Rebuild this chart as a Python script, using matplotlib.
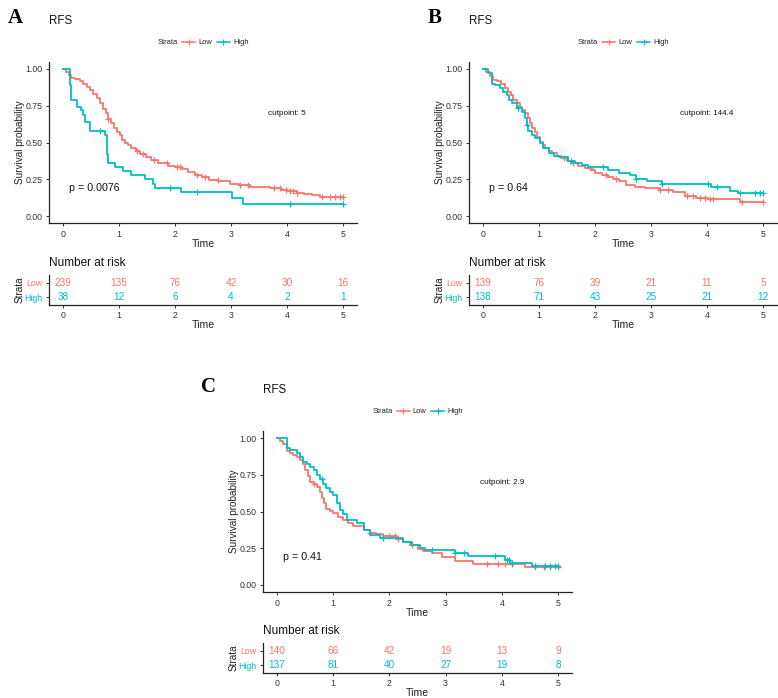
import numpy as np
import matplotlib
matplotlib.use("Agg")
import matplotlib.pyplot as plt
from matplotlib.lines import Line2D

plt.rcParams['font.family'] = ['Liberation Sans', 'DejaVu Sans']

RED = '#F8766D'
CYAN = '#00BFC4'
W, H = 778, 698

# ---- data (step times / survival after each step / censor times) ----
a_low_t = [0.05, 0.10, 0.14, 0.22, 0.30, 0.36, 0.42, 0.48, 0.54, 0.60, 0.66, 0.71, 0.76, 0.81,
           0.86, 0.91, 0.96, 1.01, 1.05, 1.10, 1.16, 1.22, 1.30, 1.38, 1.48, 1.58, 1.70, 1.88,
           2.00, 2.12, 2.24, 2.36, 2.48, 2.60, 2.77, 2.98, 3.15, 3.34, 3.50, 3.70, 3.90, 4.02,
           4.17, 4.30, 4.44, 4.59]
a_low_s = [0.98, 0.96, 0.94, 0.93, 0.92, 0.90, 0.88, 0.855, 0.83, 0.80, 0.77, 0.73, 0.70, 0.66,
           0.63, 0.60, 0.57, 0.55, 0.52, 0.50, 0.48, 0.46, 0.445, 0.425, 0.40, 0.38, 0.36, 0.34,
           0.33, 0.32, 0.30, 0.28, 0.265, 0.245, 0.235, 0.22, 0.21, 0.20, 0.195, 0.188, 0.18, 0.17,
           0.159, 0.15, 0.143, 0.131]
a_low_c = [0.81, 1.33, 1.42, 1.62, 1.85, 2.03, 2.09, 2.39, 2.53, 2.76, 3.16, 3.31, 3.76, 3.88,
           3.98, 4.05, 4.10, 4.17, 4.62, 4.77, 4.86, 4.95, 5.0]
a_high_t = [0.13, 0.15, 0.25, 0.33, 0.35, 0.39, 0.48, 0.75, 0.78, 0.80, 0.93, 1.08, 1.21, 1.46,
            1.61, 1.64, 2.11, 3.02, 3.21]
a_high_s = [0.89, 0.79, 0.74, 0.72, 0.69, 0.64, 0.58, 0.55, 0.42, 0.36, 0.33, 0.305, 0.28, 0.25,
            0.22, 0.19, 0.16, 0.12, 0.08]
a_high_c = [0.66, 1.91, 2.40, 4.05, 5.0]

b_low_t = [0.06, 0.12, 0.18, 0.25, 0.33, 0.40, 0.45, 0.50, 0.54, 0.60, 0.66, 0.70, 0.75, 0.80,
           0.84, 0.88, 0.93, 0.97, 1.02, 1.07, 1.11, 1.17, 1.23, 1.32, 1.40, 1.50, 1.58, 1.70,
           1.82, 1.92, 2.00, 2.12, 2.24, 2.33, 2.42, 2.56, 2.72, 2.90, 3.15, 3.40, 3.60, 3.80,
           4.02, 4.59]
b_low_s = [0.98, 0.95, 0.925, 0.915, 0.90, 0.87, 0.846, 0.82, 0.79, 0.77, 0.744, 0.72, 0.70,
           0.665, 0.63, 0.60, 0.574, 0.54, 0.506, 0.48, 0.46, 0.44, 0.426, 0.41, 0.392, 0.375,
           0.358, 0.34, 0.324, 0.31, 0.29, 0.28, 0.267, 0.255, 0.24, 0.21, 0.20, 0.19, 0.178,
           0.165, 0.136, 0.125, 0.114, 0.093]
b_low_c = [1.44, 1.60, 1.91, 2.20, 2.38, 3.16, 3.31, 3.64, 3.75, 3.88, 3.96, 4.06, 4.11, 4.63, 5.0]
b_high_t = [0.09, 0.155, 0.22, 0.30, 0.36, 0.42, 0.47, 0.51, 0.60, 0.69, 0.75, 0.78, 0.81, 0.87,
            0.93, 1.02, 1.08, 1.17, 1.26, 1.35, 1.52, 1.64, 1.76, 1.88, 2.24, 2.42, 2.63, 2.74,
            2.92, 3.19, 4.08, 4.41, 4.56]
b_high_s = [0.97, 0.90, 0.89, 0.87, 0.845, 0.82, 0.79, 0.767, 0.733, 0.71, 0.67, 0.62, 0.58,
            0.55, 0.53, 0.495, 0.46, 0.426, 0.41, 0.40, 0.376, 0.36, 0.347, 0.33, 0.31, 0.29,
            0.28, 0.25, 0.235, 0.22, 0.20, 0.17, 0.155]
b_high_c = [0.63, 0.78, 1.58, 2.15, 2.74, 3.19, 4.02, 4.17, 4.59, 4.86, 4.95, 5.0]

c_low_t = [0.05, 0.11, 0.17, 0.23, 0.29, 0.35, 0.41, 0.46, 0.50, 0.55, 0.59, 0.65, 0.71, 0.76,
           0.80, 0.84, 0.88, 0.94, 1.00, 1.09, 1.18, 1.27, 1.36, 1.54, 1.65, 1.77, 1.89, 2.13,
           2.25, 2.37, 2.50, 2.60, 2.75, 2.93, 3.17, 3.49, 4.42]
c_low_s = [0.98, 0.96, 0.91, 0.90, 0.884, 0.87, 0.85, 0.82, 0.78, 0.74, 0.70, 0.685, 0.67, 0.63,
           0.59, 0.555, 0.52, 0.505, 0.49, 0.465, 0.44, 0.42, 0.40, 0.374, 0.356, 0.347, 0.33,
           0.31, 0.29, 0.27, 0.245, 0.23, 0.215, 0.193, 0.16, 0.14, 0.125]
c_low_c = [0.65, 1.65, 1.99, 2.10, 2.16, 2.40, 3.73, 3.94, 4.06, 4.18, 4.60, 4.75, 4.85, 5.0]
c_high_t = [0.17, 0.23, 0.35, 0.41, 0.47, 0.53, 0.59, 0.65, 0.71, 0.76, 0.82, 0.88, 0.94, 1.00,
            1.06, 1.12, 1.18, 1.24, 1.42, 1.54, 1.65, 1.83, 2.25, 2.40, 2.55, 2.63, 3.17, 3.40,
            4.06, 4.14, 4.53]
c_high_s = [0.93, 0.92, 0.896, 0.87, 0.84, 0.82, 0.80, 0.78, 0.75, 0.72, 0.69, 0.66, 0.635, 0.61,
            0.56, 0.51, 0.48, 0.44, 0.42, 0.374, 0.34, 0.318, 0.295, 0.27, 0.25, 0.238, 0.215,
            0.197, 0.17, 0.152, 0.129]
c_high_c = [0.80, 1.89, 2.75, 3.17, 3.32, 3.88, 4.09, 4.12, 4.18, 4.60, 4.77, 4.86, 4.95, 5.0]

risk_times = [0, 1, 2, 3, 4, 5]
a_risk_low = [239, 135, 76, 42, 30, 16]
a_risk_high = [38, 12, 6, 4, 2, 1]
b_risk_low = [139, 76, 39, 21, 11, 5]
b_risk_high = [138, 71, 43, 25, 21, 12]
c_risk_low = [140, 66, 42, 19, 13, 9]
c_risk_high = [137, 81, 40, 27, 19, 8]

pvals = ['p = 0.0076', 'p = 0.64', 'p = 0.41']
cutpoints = ['cutpoint: 5', 'cutpoint: 144.4', 'cutpoint: 2.9']


def rect(l, r, t, b):
    return [l / W, 1 - b / H, (r - l) / W, (b - t) / H]


def style_axes(ax):
    for s in ['top', 'right']:
        ax.spines[s].set_visible(False)
    for s in ['left', 'bottom']:
        ax.spines[s].set_color('#222222')
        ax.spines[s].set_linewidth(0.9)
    ax.tick_params(length=2.5, width=0.7, color='#333333', labelsize=6.3,
                   labelcolor='#333333', pad=2)


def km_curve(ax, t, s, cens, color):
    tt = np.r_[0, t, 5]
    ss = np.r_[1, s, s[-1]]
    ax.step(tt, ss, where='post', color=color, lw=1.3)
    idx = np.searchsorted(t, cens, side='right')
    cy = np.r_[1, s][idx]
    ax.plot(cens, cy, ls='none', marker='+', ms=4, mew=0.9, color=color)


def draw_panel(label, km_box, tab_box, low, high, risk_low, risk_high, pval, cut):
    l, r, top, bot = km_box
    ax = fig.add_axes(rect(l, r, top, bot))
    km_curve(ax, *low, RED)
    km_curve(ax, *high, CYAN)
    ax.set_xlim(-0.25, 5.25)
    ax.set_ylim(-0.05, 1.05)
    ax.set_xticks(risk_times)
    ax.set_yticks([0, 0.25, 0.5, 0.75, 1.0])
    ax.set_yticklabels(['0.00', '0.25', '0.50', '0.75', '1.00'])
    style_axes(ax)
    ax.set_xlabel('Time', fontsize=7.6, color='#222222')
    ax.set_ylabel('Survival probability', fontsize=7.2, color='#222222')
    hgt = bot - top
    ax.xaxis.set_label_coords(0.5, -15.7 / hgt)
    ax.yaxis.set_label_coords(-24 / (r - l), 0.5)
    ax.text(0.1, 0.19, pval, fontsize=7.7, va='center', ha='left', color='#111111')
    ax.text(4.0, 0.70, cut, fontsize=5.9, va='center', ha='center', color='#111111')

    # panel letter, title, legend
    fig.text((l - 41 if label != 'C' else l - 62) / W, 1 - (top - 44) / H, label,
             fontsize=15, fontweight='bold', family='Liberation Serif', va='center')
    fig.text(l / W, 1 - (top - 41) / H, 'RFS', fontsize=8.3, va='center', color='#111111')
    cx = (l + r) / 2
    ly = 1 - (top - 19.5) / H
    fig.text((cx - 45) / W, ly, 'Strata', fontsize=5.4, va='center', color='#222222')
    fig.text((cx - 5) / W, ly, 'Low', fontsize=5.4, va='center', color='#222222')
    fig.text((cx + 30) / W, ly, 'High', fontsize=5.4, va='center', color='#222222')
    for x0, c in [(cx - 21, RED), (cx + 14, CYAN)]:
        fig.add_artist(Line2D([x0 / W, (x0 + 13) / W], [ly, ly], color=c, lw=1.1,
                              transform=fig.transFigure))
        fig.add_artist(Line2D([(x0 + 6.5) / W], [ly], color=c, marker='+', ms=4, mew=0.8,
                              transform=fig.transFigure))

    # risk table
    tt, tb = tab_box
    at = fig.add_axes(rect(l, r, tt, tb))
    at.set_xlim(-0.25, 5.25)
    at.set_ylim(0.43, 2.57)
    for x, nl, nh in zip(risk_times, risk_low, risk_high):
        at.text(x, 2, str(nl), color=RED, fontsize=7.2, ha='center', va='center')
        at.text(x, 1, str(nh), color=CYAN, fontsize=7.2, ha='center', va='center')
    at.set_xticks(risk_times)
    at.set_yticks([2, 1])
    at.set_yticklabels(['Low', 'High'])
    style_axes(at)
    for tl, c in zip(at.get_yticklabels(), [RED, CYAN]):
        tl.set_color(c)
    at.set_xlabel('Time', fontsize=7.6, color='#222222')
    at.set_ylabel('Strata', fontsize=7.2, color='#222222')
    at.xaxis.set_label_coords(0.5, -15.5 / (tb - tt))
    at.yaxis.set_label_coords(-24 / (r - l), 0.5)
    at.text(0, 1 + 12 / (tb - tt), 'Number at risk', transform=at.transAxes,
            fontsize=8.5, va='center', ha='left', color='#111111')


fig = plt.figure(figsize=(W / 100, H / 100), dpi=100)

draw_panel('A', (49, 357, 61.65, 223.35), (275, 305),
           (a_low_t, a_low_s, a_low_c), (a_high_t, a_high_s, a_high_c),
           a_risk_low, a_risk_high, pvals[0], cutpoints[0])
draw_panel('B', (469, 777, 61.65, 223.35), (275, 305),
           (b_low_t, b_low_s, b_low_c), (b_high_t, b_high_s, b_high_c),
           b_risk_low, b_risk_high, pvals[1], cutpoints[1])
draw_panel('C', (263, 572, 430.65, 592.35), (643, 673),
           (c_low_t, c_low_s, c_low_c), (c_high_t, c_high_s, c_high_c),
           c_risk_low, c_risk_high, pvals[2], cutpoints[2])

fig.savefig('out.png', dpi=100)
